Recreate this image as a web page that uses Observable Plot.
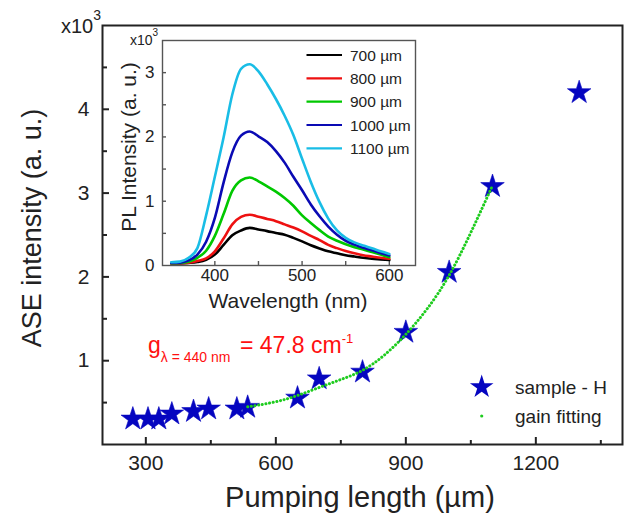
<!DOCTYPE html>
<html><head><meta charset="utf-8">
<script src="https://cdn.jsdelivr.net/npm/d3@7"></script>
<script src="https://cdn.jsdelivr.net/npm/@observablehq/plot@0.6"></script>
<style>
body{margin:0;background:#fff;}
#wrap{position:relative;width:626px;height:521px;overflow:hidden;background:#fff;}
#wrap svg{position:absolute;}
</style></head><body><div id="wrap"></div>
<script>
// ---- main chart data ----
const pumpLength   = [270, 305, 330, 360, 410, 445, 510, 535, 650, 700, 800, 900, 1000, 1100, 1300];
const aseIntensity = [305, 305, 305, 365, 395, 425, 425, 445, 555, 785, 865, 1340, 2055, 3080, 4200];
const fitLength    = [535, 550, 600, 650, 700, 750, 800, 850, 900, 950, 1000, 1050, 1100];
const fitIntensity = [450, 462, 510, 585, 680, 775, 885, 1065, 1315, 1625, 2020, 2530, 3090];
const xMajor = [300, 600, 900, 1200];
const xMinor = [450, 750, 1050, 1350];
const yMajor = [1000, 2000, 3000, 4000];
const yMinor = [500, 1500, 2500, 3500, 4500];

// ---- inset data ----
const wavelength = [350,360,370,380,390,400,410,420,430,440,450,460,470,480,490,500,510,520,530,540,550,560,570,580,590,600];
const pl700  = [30,32,40,55,90,170,320,470,545,585,560,535,505,480,430,375,315,265,220,190,160,140,120,105,95,85];
const pl800  = [30,35,45,70,110,220,420,640,755,790,760,725,690,640,590,530,460,395,320,270,225,190,160,140,120,105];
const pl900  = [35,40,60,120,230,460,800,1160,1325,1370,1310,1230,1150,1050,930,780,660,550,450,385,330,285,250,210,170,130];
const pl1000 = [40,45,80,170,370,740,1290,1760,2020,2085,2010,1920,1780,1600,1380,1170,950,765,605,480,385,325,275,238,195,155];
const pl1100 = [50,60,120,270,780,1380,1990,2660,3060,3130,3020,2820,2590,2330,2030,1660,1300,985,730,545,430,360,310,268,220,180];
const seriesNames  = ["700 \u00b5m", "800 \u00b5m", "900 \u00b5m", "1000 \u00b5m", "1100 \u00b5m"];
const seriesValues = [pl700, pl800, pl900, pl1000, pl1100];
const seriesColors = ["#000000", "#ee1111", "#00c800", "#0a0ab4", "#19bde6"];
const insetXTicks = [400, 450, 500, 550, 600];
const insetXLabels = [400, 500, 600];
const insetYTicks = [500, 1000, 1500, 2000, 2500, 3000];
const insetYLabels = [0, 1000, 2000, 3000];

const FONT = "Liberation Sans, Arial, sans-serif";
const wrap = document.getElementById("wrap");

const stars = pumpLength.map((x, i) => ({x, y: aseIntensity[i]}));
const fit = fitLength.map((x, i) => ({x, y: fitIntensity[i]}));
const starColor = "#0505c0";
const fitColor = "#1fcc1f";
const axisColor = "#222";
const STAR_R = 7.4;

// main frame: 520 x 419 px; ticks point inward (7 px major, 4 px minor)
const main = Plot.plot({
  width: 626, height: 521,
  marginLeft: 102, marginRight: 4, marginTop: 25, marginBottom: 77,
  style: {fontFamily: FONT, color: "#222", background: "transparent"},
  x: {domain: [200, 1400]},
  y: {domain: [0, 5000]},
  marks: [
    Plot.tickX(xMajor, {x: d => d, insetTop: 412, stroke: axisColor, strokeWidth: 2}),
    Plot.tickX(xMinor, {x: d => d, insetTop: 415, stroke: axisColor, strokeWidth: 2}),
    Plot.tickY(yMajor, {y: d => d, insetRight: 513, stroke: axisColor, strokeWidth: 2}),
    Plot.tickY(yMinor, {y: d => d, insetRight: 515, stroke: axisColor, strokeWidth: 2}),
    Plot.axisX(xMajor, {tickSize: 0, tickPadding: 11, tickFormat: d => String(d), label: null, fontSize: 21}),
    Plot.axisY(yMajor, {tickSize: 0, tickPadding: 13, tickFormat: d => String(d / 1000), label: null, fontSize: 21}),
    Plot.frame({stroke: axisColor, strokeWidth: 2}),
    Plot.dot(stars, {x: "x", y: "y", symbol: "star", r: STAR_R, fill: starColor, stroke: starColor, strokeWidth: 0.6}),
    Plot.line(fit, {x: "x", y: "y", curve: "natural", stroke: fitColor, strokeWidth: 3, strokeDasharray: "0.1 3.6", strokeLinecap: "round"})
  ]
});
main.style.left = "0px"; main.style.top = "0px";
wrap.appendChild(main);

// inset frame: 253 x 225 px
const spectra = [];
seriesValues.forEach((vals, s) => vals.forEach((v, i) => spectra.push({w: wavelength[i], v, s: seriesNames[s]})));
const inset = Plot.plot({
  width: 330, height: 290,
  marginLeft: 62, marginRight: 15, marginTop: 10, marginBottom: 55,
  style: {fontFamily: FONT, color: "#222", background: "transparent"},
  x: {domain: [340, 630]},
  y: {domain: [0, 3500]},
  color: {domain: seriesNames, range: seriesColors},
  marks: [
    Plot.tickX(insetXTicks, {x: d => d, insetTop: 221, stroke: "#555", strokeWidth: 1.4}),
    Plot.tickY(insetYTicks, {y: d => d, insetRight: 249, stroke: "#555", strokeWidth: 1.4}),
    Plot.axisX(insetXLabels, {tickSize: 0, tickPadding: 3, tickFormat: d => String(d), label: null, fontSize: 17}),
    Plot.axisY(insetYLabels, {tickSize: 0, tickPadding: 8, tickFormat: d => String(d / 1000), label: null, fontSize: 17}),
    Plot.line(spectra, {x: "w", y: "v", z: "s", stroke: "s", strokeWidth: 2.6, curve: "monotone-x"}),
    Plot.frame({stroke: "#555", strokeWidth: 1.4})
  ]
});
inset.style.left = "100px"; inset.style.top = "30px";
wrap.appendChild(inset);

// overlay: titles, annotation, legends
const ov = d3.select(wrap).append("svg").attr("width", 626).attr("height", 521)
  .style("left", "0px").style("top", "0px").attr("font-family", FONT);

function txt(x, y, s, size, opts = {}) {
  const t = ov.append("text").attr("x", x).attr("y", y).attr("font-size", size)
    .attr("fill", opts.fill || "#222").attr("text-anchor", opts.anchor || "start").text(s);
  if (opts.rotate) t.attr("transform", `rotate(-90 ${x} ${y})`);
  return t;
}
const m1 = ov.append("text").attr("x", 61).attr("y", 33).attr("font-size", 20).attr("fill", "#222");
m1.append("tspan").text("x10");
m1.append("tspan").attr("font-size", 14).attr("dy", -13).text("3");
const m2 = ov.append("text").attr("x", 130).attr("y", 45).attr("font-size", 14).attr("fill", "#222");
m2.append("tspan").text("x10");
m2.append("tspan").attr("font-size", 10).attr("dy", -9).text("3");

txt(41, 228, "ASE intensity (a. u.)", 27, {anchor: "middle", rotate: true});
txt(360, 507, "Pumping length (\u00b5m)", 29, {anchor: "middle"});
txt(136, 147, "PL Intensity (a. u.)", 21, {anchor: "middle", rotate: true});
txt(288, 308, "Wavelength (nm)", 21, {anchor: "middle"});

const g = ov.append("text").attr("x", 148).attr("y", 353).attr("font-size", 23).attr("fill", "#ff1010");
g.append("tspan").text("g");
g.append("tspan").attr("font-size", 14).attr("dy", 9).text("\u03bb = 440 nm");
g.append("tspan").attr("dy", -9).attr("x", 240).text("= 47.8 cm");
g.append("tspan").attr("font-size", 13).attr("dy", -10).text("-1");

const rowY = [55, 78.3, 101.7, 125, 148.3];
seriesNames.forEach((name, i) => {
  ov.append("line").attr("x1", 306.5).attr("x2", 342).attr("y1", rowY[i]).attr("y2", rowY[i])
    .attr("stroke", seriesColors[i]).attr("stroke-width", 2.2);
  txt(350, rowY[i] + 5.5, name, 15.5);
});

ov.append("path").attr("d", d3.symbol(d3.symbolStar, Math.PI * STAR_R * STAR_R)())
  .attr("transform", "translate(481.7,387)").attr("fill", starColor);
txt(515, 394, "sample - H", 19);
ov.append("circle").attr("cx", 481.7).attr("cy", 416).attr("r", 1.6).attr("fill", fitColor);
txt(515, 423, "gain fitting", 19);
</script></body></html>
